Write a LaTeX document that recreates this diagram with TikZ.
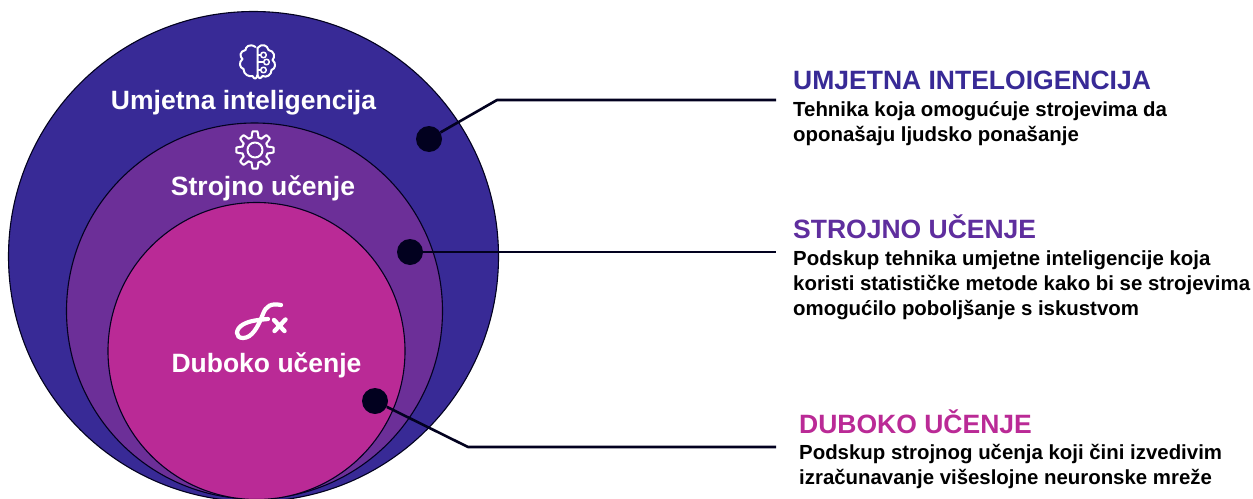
\documentclass[tikz,border=0pt]{standalone}
\usepackage{fontspec}
\setmainfont{Liberation Sans}
\definecolor{cblue}{HTML}{382A96}
\definecolor{cpurple}{HTML}{6C2F98}
\definecolor{cpink}{HTML}{BA2A96}
\definecolor{cdark}{HTML}{02011F}
\definecolor{chead}{HTML}{5F2E9E}
\tikzset{
  ring/.style={circle,draw=cdark,line width=1.1pt,inner sep=0pt,minimum size=#1},
  dotmark/.style={circle,fill=cdark,inner sep=0pt,minimum size=26pt},
  lead/.style={draw=cdark,line width=2.6pt,line join=round},
  inlabel/.style={text=white,font=\bfseries\fontsize{26.5}{28}\selectfont,anchor=center,inner sep=0pt},
  headlabel/.style={font=\bfseries\fontsize{26.5}{28}\selectfont,anchor=base west,inner sep=0pt},
  bodylabel/.style={text=black,font=\bfseries\fontsize{20.4}{25}\selectfont,anchor=north west,inner sep=0pt,align=left},
  icon/.style={draw=white,line width=2pt,line cap=round,line join=round}
}
\begin{document}
\begin{tikzpicture}[x=1pt,y=-1pt]
\useasboundingbox (0,0) rectangle (1253,498);
\begin{scope}
\clip (0,0) rectangle (1253,498);
\node[ring=490pt,fill=cblue] (outer) at (253.5,256.5) {};
\node[ring=376pt,fill=cpurple] (middle) at (254.5,311) {};
\node[ring=297pt,fill=cpink] (inner) at (256.5,351) {};
\end{scope}
\node[inlabel] (t1) at (243.5,102.5) {Umjetna inteligencija};
\node[inlabel] (t2) at (263,188) {Strojno učenje};
\node[inlabel] (t3) at (266.5,365) {Duboko učenje};
% brain icon
\begin{scope}[shift={(257.5,62)}]
\draw[icon] (-2,-15) .. controls (-8,-19) and (-12,-15) .. (-12,-12) .. controls (-18,-11) and (-18,-5) .. (-15,-3) .. controls (-19,0) and (-18,6) .. (-14,7) .. controls (-14,13) and (-8,15) .. (-5,14) .. controls (-3,18) and (-1,17) .. (0,13) -- (0,-14);
\draw[icon] (0,-14) .. controls (4,-19) and (10,-17) .. (11,-12) .. controls (17,-11) and (18,-5) .. (15,-2) .. controls (19,1) and (18,7) .. (14,8) .. controls (14,13) and (9,16) .. (5,14) .. controls (3,17) and (1,17) .. (0,13);
\draw[icon,line width=1.5pt] (0,-7) -- (3,-7) (0,0) -- (6,0) (0,8) -- (3,8);
\draw[icon,line width=1.5pt] (6,-7) circle (2.8) (9,0) circle (2.8) (6,8) circle (2.8);
\end{scope}
% gear icon
\begin{scope}[shift={(255,150)}]
\draw[icon] plot[samples=193,domain=0:360,variable=\a] ({(15.8+2.9*max(min(2*cos(8*\a),1),-1))*cos(\a)},{(15.8+2.9*max(min(2*cos(8*\a),1),-1))*sin(\a)}) -- cycle;
\draw[icon] (0,0) circle (7.5);
\end{scope}
% fx icon
\draw[white,line width=4.2pt,line cap=round] (281,305) .. controls (271,303) and (266,306) .. (263,314) .. controls (258,327) and (252,338) .. (243,338) .. controls (235,338) and (235,329) .. (243,324.5) .. controls (250,320.5) and (258,320) .. (268,319);
\draw[white,line width=4.4pt,line cap=round] (274,320) -- (284.5,331) (285.5,319.5) -- (274.5,331);
% dots and leaders
\node[dotmark] (d1) at (429,139) {};
\node[dotmark] (d2) at (410,252) {};
\node[dotmark] (d3) at (375,401) {};
\coordinate (b1) at (497,100);
\coordinate (e1) at (776,100);
\coordinate (e2) at (776,252);
\coordinate (b3) at (468,447);
\coordinate (e3) at (776,447);
\draw[lead] (d1) -- (b1) -- (e1);
\draw[lead] (d2) -- (e2);
\draw[lead] (d3) -- (b3) -- (e3);
% right text
\node[headlabel,text=cblue] (h1) at (793,89.5) {UMJETNA INTELOIGENCIJA};
\node[bodylabel] (p1) at (793,101) {Tehnika koja omogućuje strojevima da\\oponašaju ljudsko ponašanje};
\node[headlabel,text=chead] (h2) at (793,238.5) {STROJNO UČENJE};
\node[bodylabel] (p2) at (793,251) {Podskup tehnika umjetne inteligencije koja\\koristi statističke metode kako bi se strojevima\\omogućilo poboljšanje s iskustvom};
\node[headlabel,text=cpink] (h3) at (799,433.5) {DUBOKO UČENJE};
\node[bodylabel] (p3) at (799,444) {Podskup strojnog učenja koji čini izvedivim\\izračunavanje višeslojne neuronske mreže};
\end{tikzpicture}
\end{document}
